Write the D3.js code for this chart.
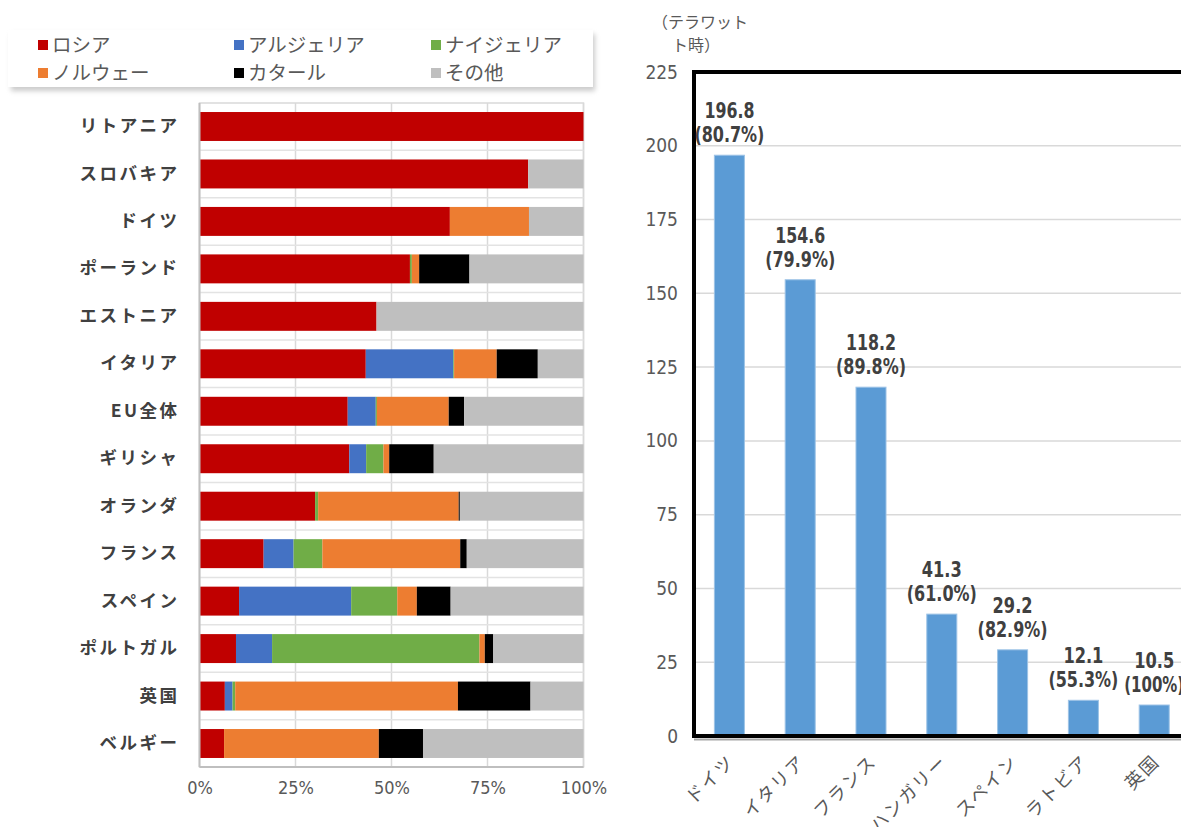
<!DOCTYPE html>
<html><head><meta charset="utf-8">
<script src="https://cdn.jsdelivr.net/npm/d3@7/dist/d3.min.js"></script>
<style>
html,body{margin:0;padding:0;background:#fff;}
svg{display:block;}
</style></head>
<body>
<svg id="c" width="1181" height="827"></svg>
<script>
// ---- Left chart data (share of gas imports, %) ----
const categories = ["リトアニア","スロバキア","ドイツ","ポーランド","エストニア","イタリア","EU全体","ギリシャ","オランダ","フランス","スペイン","ポルトガル","英国","ベルギー"];
const seriesNames = ["ロシア","アルジェリア","ナイジェリア","ノルウェー","カタール","その他"];
const russia  = [100, 85.6, 65.2, 54.8, 46.1, 43.3, 38.6, 39.0, 30.1, 16.7, 10.3,  9.5,  6.6,  6.4];
const algeria = [  0,  0,    0,    0,    0,   22.8,  7.3,  4.4,  0,    7.8, 29.2,  9.4,  2.0,  0];
const nigeria = [  0,  0,    0,    0.5,  0,    0.2,  0.3,  4.5,  0.8,  7.5, 12.0, 54.0,  0.7,  0];
const norway  = [  0,  0,   20.6,  1.9,  0,   11.1, 18.7,  1.5, 36.6, 35.9,  5.1,  1.4, 58.0, 40.3];
const qatar   = [  0,  0,    0,   13.1,  0,   10.7,  4.0, 11.6,  0.3,  1.7,  8.8,  2.2, 18.9, 11.5];
const other   = [  0, 14.4, 14.2, 29.7, 53.9, 11.9, 31.1, 39.0, 32.2, 30.4, 34.6, 23.5, 13.8, 41.8];
const xTicksLeft = [0, 25, 50, 75, 100];

// ---- Right chart data (TWh) ----
const countries2 = ["ドイツ","イタリア","フランス","ハンガリー","スペイン","ラトビア","英国"];
const values2 = [196.8, 154.6, 118.2, 41.3, 29.2, 12.1, 10.5];
const shares2 = ["80.7%","79.9%","89.8%","61.0%","82.9%","55.3%","100%"];
const yTicksRight = [0, 25, 50, 75, 100, 125, 150, 175, 200, 225];

const colors = ["#c00000","#4472c4","#70ad47","#ed7d31","#000000","#bfbfbf"];

const svg = d3.select("#c");
const jp = "'Noto Sans CJK JP','Noto Sans',sans-serif";
const num = "'DejaVu Sans Condensed','Liberation Sans Narrow','Roboto',sans-serif";

// ================= LEFT CHART =================
const rows = categories.map((c,i)=>({cat:c, ロシア:russia[i], アルジェリア:algeria[i], ナイジェリア:nigeria[i], ノルウェー:norway[i], カタール:qatar[i], その他:other[i]}));
const stacked = d3.stack().keys(seriesNames)(rows);

const xL = d3.scaleLinear().domain([0,100]).range([199.5,583.5]);
const yL = d3.scaleBand().domain(categories).range([103,767]).paddingInner(0.39).paddingOuter(0.19);

const gL = svg.append("g");
gL.append("rect").attr("x",xL(0)).attr("y",103).attr("width",xL(100)-xL(0)).attr("height",664)
  .attr("fill","none").attr("stroke","#d9d9d9").attr("stroke-width",1.5);
gL.selectAll("line.vg").data(xTicksLeft.slice(1)).join("line")
  .attr("x1",d=>xL(d)).attr("x2",d=>xL(d)).attr("y1",103).attr("y2",767)
  .attr("stroke","#d9d9d9").attr("stroke-width",1.5);
const bounds = d3.range(1,categories.length).map(i=>yL(categories[i]) - yL.step()*yL.paddingInner()/2);
gL.selectAll("line.hg").data(bounds).join("line")
  .attr("x1",xL(0)).attr("x2",xL(100)).attr("y1",d=>d).attr("y2",d=>d)
  .attr("stroke","#e3e3e3").attr("stroke-width",1.5);
gL.selectAll("g.s").data(stacked).join("g").attr("fill",(d,i)=>colors[i])
  .selectAll("rect").data(d=>d).join("rect")
  .attr("x",d=>xL(d[0])).attr("width",d=>Math.max(0,xL(d[1])-xL(d[0])))
  .attr("y",d=>yL(d.data.cat)).attr("height",yL.bandwidth());
gL.append("line").attr("x1",xL(0)).attr("x2",xL(0)).attr("y1",103).attr("y2",767).attr("stroke","#bfbfbf").attr("stroke-width",2);
gL.append("line").attr("x1",xL(0)).attr("x2",xL(100)).attr("y1",767).attr("y2",767).attr("stroke","#bfbfbf").attr("stroke-width",2);
const axL = d3.axisLeft(yL).tickSize(0).tickPadding(20);
const gAxL = gL.append("g").attr("transform",`translate(${xL(0)},0)`).call(axL);
gAxL.select(".domain").remove();
gAxL.selectAll("text").attr("font-family",jp).attr("font-size",17.5).attr("font-weight",700)
  .attr("fill","#404040").attr("letter-spacing","2.5px");
const axB = d3.axisBottom(xL).tickValues(xTicksLeft).tickFormat(d=>d+"%").tickSize(0).tickPadding(14);
const gAxB = gL.append("g").attr("transform","translate(0,767)").call(axB);
gAxB.select(".domain").remove();
gAxB.selectAll("text").attr("font-family",num).attr("font-size",18).attr("fill","#595959");

// legend
const defs = svg.append("defs");
defs.append("filter").attr("id","blur").append("feGaussianBlur").attr("stdDeviation",2.5);
const leg = svg.append("g");
leg.append("rect").attr("x",11).attr("y",34).attr("width",584).attr("height",57).attr("fill","#9a9a9a").attr("opacity",0.5).attr("filter","url(#blur)");
leg.append("rect").attr("x",8).attr("y",30).attr("width",585).attr("height",57).attr("fill","#fff");
const legX = [38, 234, 431];
const legY = [45, 73];
seriesNames.forEach((n,i)=>{
  const x = legX[i%3], y = legY[Math.floor(i/3)];
  leg.append("rect").attr("x",x).attr("y",y-5).attr("width",10).attr("height",10).attr("fill",colors[i]);
  leg.append("text").attr("x",x+14).attr("y",y).attr("dy","0.36em").attr("font-family",jp)
    .attr("font-size",19.5).attr("fill","#595959").text(n);
});

// ================= RIGHT CHART =================
const xR = d3.scaleBand().domain(countries2).range([694, 694+7*70.8]).paddingInner(0.576).paddingOuter(0.288);
const yR = d3.scaleLinear().domain([0,225]).range([736,72]);
const gR = svg.append("g");
gR.selectAll("line.g").data(yTicksRight.filter(d=>d>0 && d<225)).join("line")
  .attr("x1",694).attr("x2",1181).attr("y1",d=>yR(d)).attr("y2",d=>yR(d))
  .attr("stroke","#d9d9d9").attr("stroke-width",1.5);
gR.selectAll("rect.b").data(values2).join("rect")
  .attr("x",(d,i)=>xR(countries2[i])).attr("width",xR.bandwidth())
  .attr("y",d=>yR(d)).attr("height",d=>yR(0)-yR(d))
  .attr("fill","#5b9bd5").attr("stroke","#9dc3e6").attr("stroke-width",1);
gR.append("line").attr("x1",694).attr("x2",1181).attr("y1",yR(0)+3.5).attr("y2",yR(0)+3.5).attr("stroke","#a6a6a6").attr("stroke-width",2);
gR.append("path").attr("d",`M1200,${yR(225)} H${694} V${yR(0)} H1200`)
  .attr("fill","none").attr("stroke","#000").attr("stroke-width",4);
const axR = d3.axisLeft(yR).tickValues(yTicksRight).tickSize(0).tickPadding(16);
const gAxR = gR.append("g").attr("transform","translate(694,0)").call(axR);
gAxR.select(".domain").remove();
gAxR.selectAll("text").attr("font-family",num).attr("font-size",19).attr("fill","#595959");
gR.append("text").attr("x",700).attr("y",22).attr("dy","0.36em").attr("text-anchor","middle")
  .attr("font-family",jp).attr("font-size",16).attr("fill","#595959").text("（テラワット");
gR.append("text").attr("x",696).attr("y",45).attr("dy","0.36em").attr("text-anchor","middle")
  .attr("font-family",jp).attr("font-size",16).attr("fill","#595959").text("ト時）");
countries2.forEach((c,i)=>{
  const cx = xR(c)+xR.bandwidth()/2;
  gR.append("text").attr("transform",`translate(${cx+2},${758}) rotate(-45)`)
    .attr("text-anchor","end").attr("dy","0.36em").attr("font-family",jp).attr("font-size",18)
    .attr("fill","#595959").attr("letter-spacing","2px").text(c);
});
values2.forEach((v,i)=>{
  const cx = xR(countries2[i])+xR.bandwidth()/2;
  const top = yR(v);
  const t1 = v.toFixed(1), t2 = "("+shares2[i]+")";
  gR.append("text").attr("x",cx).attr("y",top-37).attr("text-anchor","middle")
    .attr("font-family",num).attr("font-weight",700).attr("font-size",21).attr("fill","#404040")
    .attr("textLength",t1.length*10).attr("lengthAdjust","spacingAndGlyphs").text(t1);
  gR.append("text").attr("x",cx).attr("y",top-13).attr("text-anchor","middle")
    .attr("font-family",num).attr("font-weight",700).attr("font-size",21).attr("fill","#404040")
    .attr("textLength",t2.length*10).attr("lengthAdjust","spacingAndGlyphs").text(t2);
});
</script>
</body></html>
